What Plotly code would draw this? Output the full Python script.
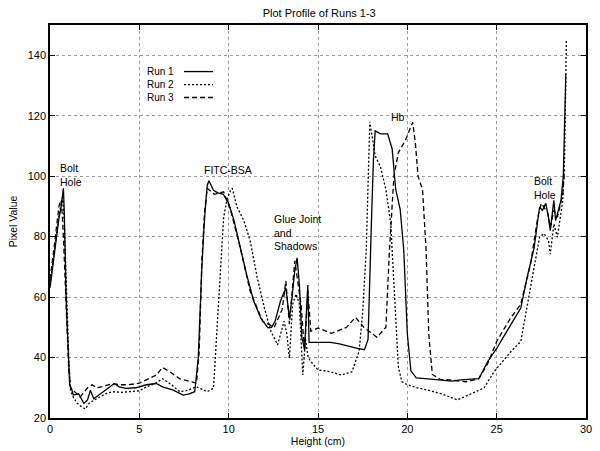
import plotly.graph_objects as go

# values
run1_x = [0, 0.1, 0.2, 0.3, 0.4, 0.5, 0.6, 0.7, 0.75, 0.8, 0.85, 0.9, 1.0,
          1.1, 1.2, 1.3, 1.6, 1.9, 2.1, 2.26, 2.45, 2.74, 3.1, 3.6, 3.87, 4.25, 4.8,
          5.4, 5.95, 6.3, 6.9, 7.45, 7.8, 8.1, 8.3, 8.5,
          8.65, 8.8, 8.9, 9.15,
          9.4, 9.7, 10.0, 10.3, 10.65, 11.0, 11.4, 11.8, 12.2, 12.4, 12.6, 12.9, 13.2,
          13.4, 13.55, 13.7, 13.83, 13.96, 14.1, 14.25, 14.35, 14.43, 14.5, 14.8, 15.2,
          15.7, 16.2, 16.7, 17.2, 17.6, 17.8, 18.0, 18.1, 18.2, 18.5, 18.9, 19.15, 19.35,
          19.6, 19.8, 20.0, 20.2, 20.5, 21.0, 21.5, 22.0, 22.5, 23.0, 23.5, 24.0, 24.5,
          25.0, 25.4, 25.8, 26.35, 26.7, 27.1, 27.4, 27.56, 27.75, 27.9, 28.0, 28.2,
          28.3, 28.6, 28.73, 28.8, 28.87]
run1_y = [63, 68, 72, 76, 82, 86, 89, 94, 96, 88, 72, 60, 45,
          31, 29.8, 27.6, 28, 24.8, 26, 29.2, 26.4, 27.6, 29.2, 31.4, 30.3, 29.8, 30,
          31, 31.4, 30.3, 29.2, 27.6, 28, 28.7, 40, 70,
          86, 97, 98.5, 95.3,
          94.5, 94, 91, 85.3, 76.4, 67.6, 58.7, 53, 49.8, 50, 52, 58.7, 63,
          53, 60, 68.7, 73, 64, 46.4, 43, 55, 64, 45, 45, 45,
          45, 44.5, 43.7, 43, 42.6, 46, 86.7, 105, 115, 114, 114, 109, 95.6,
          89, 75.6, 47.8, 35.6, 33.3, 33, 32.8, 32.5, 32.2, 32.6, 32.8, 33, 38.7,
          43, 47, 51, 56.4, 66.4, 76.4, 89.8, 88.7, 91, 86.4, 82, 92,
          85.3, 92, 100, 117.6, 133.7]

run2_x = [0, 0.1, 0.2, 0.3, 0.4, 0.5, 0.6, 0.7, 0.8, 0.9, 0.95, 1.05,
          1.15, 1.3, 1.5, 1.7, 1.98, 2.2, 2.5, 2.74, 3.1, 3.5, 4.0, 4.4, 5.0, 5.4,
          5.9, 6.3, 6.8, 7.26, 7.6, 8.2, 8.8, 9.15, 9.25, 9.35,
          9.55, 9.72, 9.9, 10.1, 10.2, 10.47,
          10.85, 11.2, 11.6, 12.0, 12.36, 12.74, 13.1, 13.25, 13.4, 13.58, 13.77, 13.95,
          14.15, 14.3, 14.45, 14.6, 15.0, 15.7, 16.3, 16.9, 17.3, 17.5, 17.7, 17.9, 18.2,
          18.5, 18.8, 19.07, 19.25, 19.5, 19.7, 20.0, 20.55, 21.3, 22.0, 22.8, 23.5, 24.3,
          24.85, 25.8, 26.35, 26.7, 27.1, 27.4, 27.65, 27.9, 28.0, 28.2, 28.4, 28.7, 28.8,
          28.9]
run2_y = [64, 68, 73, 78, 83, 87, 90, 93, 85, 62, 58, 40,
          29, 27, 25, 24, 23, 25, 26, 27, 28, 28.7, 28.5, 28.7, 29, 30.3,
          31.5, 33, 31, 28.7, 29, 30.3, 28.7, 29.8, 40, 53,
          70, 86.4, 92, 95.3, 96, 89.8,
          85.3, 78.7, 66.4, 56.4, 48.7, 44.2, 52, 48, 39.8, 57.6, 61, 58,
          34.2, 46, 40, 38.7, 35.9, 35.3, 34.2, 35.3, 42, 55, 75.6, 118, 106.7,
          103, 95.6, 84.4, 64.4, 36.7, 32, 31, 30, 29, 27.8, 26, 27.8, 30,
          35.3, 42, 45.3, 56.4, 69.8, 79.8, 81, 78.7, 74.2, 84.2, 79.8, 92, 106,
          145]

run3_x = [0, 0.1, 0.2, 0.3, 0.4, 0.5, 0.6, 0.65, 0.75, 0.85, 0.95, 1.05,
          1.15, 1.3, 1.5, 1.7, 1.9, 2.1, 2.36, 2.6, 3.0, 3.5, 4.0, 4.4, 5.0, 5.4,
          5.95, 6.3, 6.7, 7.26, 8.0, 8.2, 8.35, 8.5,
          8.65, 8.8, 9.2, 9.72, 10.1, 10.66, 11.2, 11.9,
          12.55, 13.0, 13.2, 13.4, 13.7, 14.05, 14.25, 14.43, 14.6, 15.0, 15.75, 16.6,
          17.1, 17.57, 18.3, 18.8, 19.0, 19.25, 19.5, 19.9, 20.3, 20.45, 20.6, 20.85,
          21.05, 21.2, 21.4, 21.85, 22.5, 23.3, 24.0, 24.5, 25.0, 25.8, 26.35, 26.9,
          27.3, 27.5, 27.85, 28.0, 28.2, 28.4, 28.7, 28.8]
run3_y = [66, 70, 75, 80, 86, 90, 92, 91, 80, 63, 50, 36,
          30, 29, 28, 27, 28.5, 30, 31, 30, 30.5, 31.4, 31, 31, 31.5, 32.6,
          34.2, 36.7, 35.3, 33, 32, 31.5, 42, 72,
          88, 96, 94, 94.8, 89, 76, 62, 52,
          50, 56, 65.3, 51, 72, 57.6, 42, 62, 48.7, 49.8, 48, 50,
          53.3, 50, 46.7, 50, 75.6, 100, 107.8, 112, 117.8, 111, 100, 95.6,
          75.6, 47.8, 34.4, 32.8, 32.5, 32, 33, 38, 45.3, 53.3, 57.6, 71,
          86.4, 91, 88, 83, 88.7, 86.4, 94, 102]

run_names = ["Run 1", "Run 2", "Run 3"]
run_dashes = ["solid", "2px,2px", "5px,3px"]

# (text, x of left edge, y of text centre)
labels = [
    ("Bolt<br>Hole", 0.45, 100.3),
    ("FITC-BSA", 8.5, 102),
    ("Glue Joint<br>and<br>Shadows", 12.45, 81.5),
    ("Hb", 19.0, 119.5),
    ("Bolt<br>Hole", 26.95, 96.0),
]

FONT = "Liberation Sans, Arial, sans-serif"

fig = go.Figure()
for name, xs, ys, dash in zip(run_names, [run1_x, run2_x, run3_x],
                              [run1_y, run2_y, run3_y], run_dashes):
    fig.add_trace(go.Scatter(x=xs, y=ys, mode="lines", name=name,
                             line=dict(color="black", width=1.3, dash=dash)))

# gnuplot-style key: text first, then sample line
fig.add_annotation(xref="paper", yref="paper", x=0.236, y=0.848,
                   text="<br>".join(run_names), showarrow=False, align="right",
                   xanchor="right", yanchor="middle",
                   font=dict(family=FONT, size=10, color="black"))
for i, dash in enumerate(run_dashes):
    yy = 0.8815 - i * 0.033
    fig.add_shape(type="line", xref="paper", yref="paper", x0=0.25, x1=0.304,
                  y0=yy, y1=yy, line=dict(color="black", width=1.3, dash=dash))

for text, lx, ly in labels:
    fig.add_annotation(x=lx, y=ly, text=text, showarrow=False, align="left",
                       xanchor="left", yanchor="middle",
                       font=dict(family=FONT, size=10.5, color="black"))

axis_style = dict(showline=True, linecolor="black", linewidth=1.5, mirror="ticks",
                  ticks="inside", ticklen=5, tickcolor="black", showgrid=True,
                  gridcolor="#9a9a9a", griddash="dot", gridwidth=1, zeroline=False,
                  automargin=False,
                  tickfont=dict(family=FONT, size=11, color="black"))

fig.update_xaxes(range=[0, 30], dtick=5,
                 title=dict(text="Height (cm)", standoff=2,
                            font=dict(family=FONT, size=10.5, color="black")),
                 **axis_style)
fig.update_yaxes(range=[20, 150], tickvals=[20, 40, 60, 80, 100, 120, 140],
                 title=dict(text="Pixel Value", standoff=8,
                            font=dict(family=FONT, size=10.5, color="black")),
                 **axis_style)

fig.update_layout(
    width=600, height=451,
    margin=dict(l=50, r=14, t=25, b=33),
    paper_bgcolor="white", plot_bgcolor="white",
    showlegend=False,
    title=dict(text="Plot Profile of Runs 1-3", x=0.532, xanchor="center",
               y=0.971, yanchor="middle",
               font=dict(family=FONT, size=11, color="black")),
)

# drop the browser's default 8px body margin so the figure fills the window
fig.write_html("out.html", config={"displayModeBar": False},
               post_script="document.body.style.margin = '0px';")
